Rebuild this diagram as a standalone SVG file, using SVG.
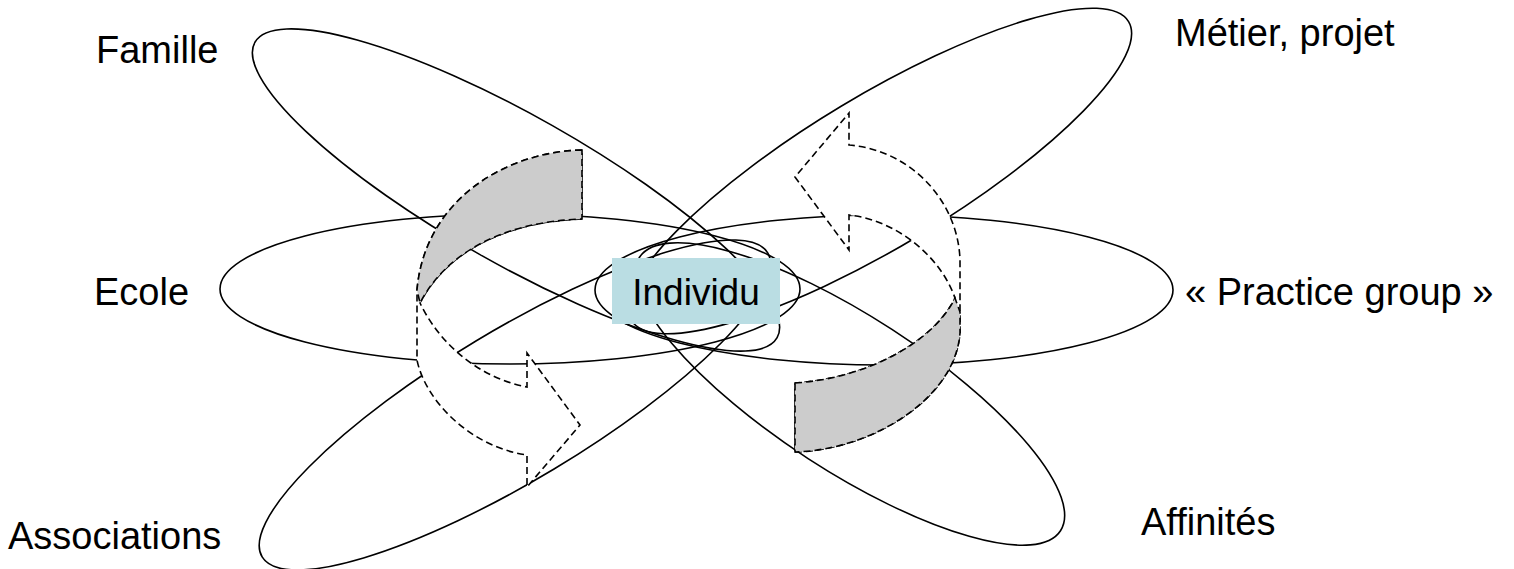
<svg xmlns="http://www.w3.org/2000/svg" width="1514" height="569" viewBox="0 0 1514 569">
  <style>
    .petal { fill: none; stroke: #000; stroke-width: 1.6; }
    .lbl { font-family: "Liberation Sans", Arial, sans-serif; font-size: 38px; fill: #000; }
    .arw { fill: #fff; stroke: #000; stroke-width: 1.6; stroke-dasharray: 7 4; stroke-linejoin: miter; }
    .back { fill: #cccccc; stroke: #000; stroke-width: 1.6; stroke-dasharray: 7 4; }
  </style>
  <rect x="0" y="0" width="1514" height="569" fill="#fff"/>

  <g id="famille">
    <ellipse class="petal" cx="516" cy="190" rx="300" ry="74" transform="rotate(29.5 516 190)"/>
    <text class="lbl" x="96" y="63">Famille</text>
  </g>
  <g id="metier">
    <ellipse class="petal" cx="880" cy="171" rx="290" ry="75.5" transform="rotate(-31 880 171)"/>
    <text class="lbl" x="1175" y="46">Métier, projet</text>
  </g>
  <g id="ecole">
    <ellipse class="petal" cx="510" cy="289" rx="290" ry="75"/>
    <text class="lbl" x="94" y="305">Ecole</text>
  </g>
  <g id="practice">
    <ellipse class="petal" cx="884" cy="290" rx="289" ry="75"/>
    <text class="lbl" x="1185" y="305">« Practice group »</text>
  </g>
  <g id="associations">
    <ellipse class="petal" cx="515" cy="405" rx="295" ry="75" transform="rotate(-31 515 405)"/>
    <text class="lbl" x="8" y="549">Associations</text>
  </g>
  <g id="affinites">
    <ellipse class="petal" cx="850" cy="394" rx="251" ry="77" transform="rotate(33 850 394)"/>
    <text class="lbl" x="1141" y="535">Affinités</text>
  </g>

  <g id="connectors">
    <g id="arrow-left">
      <path class="arw" d="M582,150 C505,152 425,200 417,290 L417,360 C425,400 470,447 527,455 L527,487 L580,425 L527,353 L527,387 C480,378 440,345 420,303 C445,255 500,222 582,219 Z"/>
      <path class="back" d="M582,150 C505,152 425,200 417,290 L420,303 C445,255 500,222 582,219 Z"/>
    </g>
    <g id="arrow-right">
      <path class="arw" d="M795,452 C870,450 955,400 960,333 L960,260 C958,200 910,150 849,145 L849,113 L795,177 L849,250 L849,215 C895,220 940,255 955,298 C935,340 870,378 795,383 Z"/>
      <path class="back" d="M795,383 C870,378 935,340 955,298 L960,312 L960,333 C955,400 870,450 795,452 Z"/>
    </g>
  </g>

  <g id="individu">
    <rect x="612" y="258" width="168" height="66" fill="#badde3"/>
    <text class="lbl" x="696" y="305" text-anchor="middle" style="font-size:37px">Individu</text>
  </g>
</svg>
